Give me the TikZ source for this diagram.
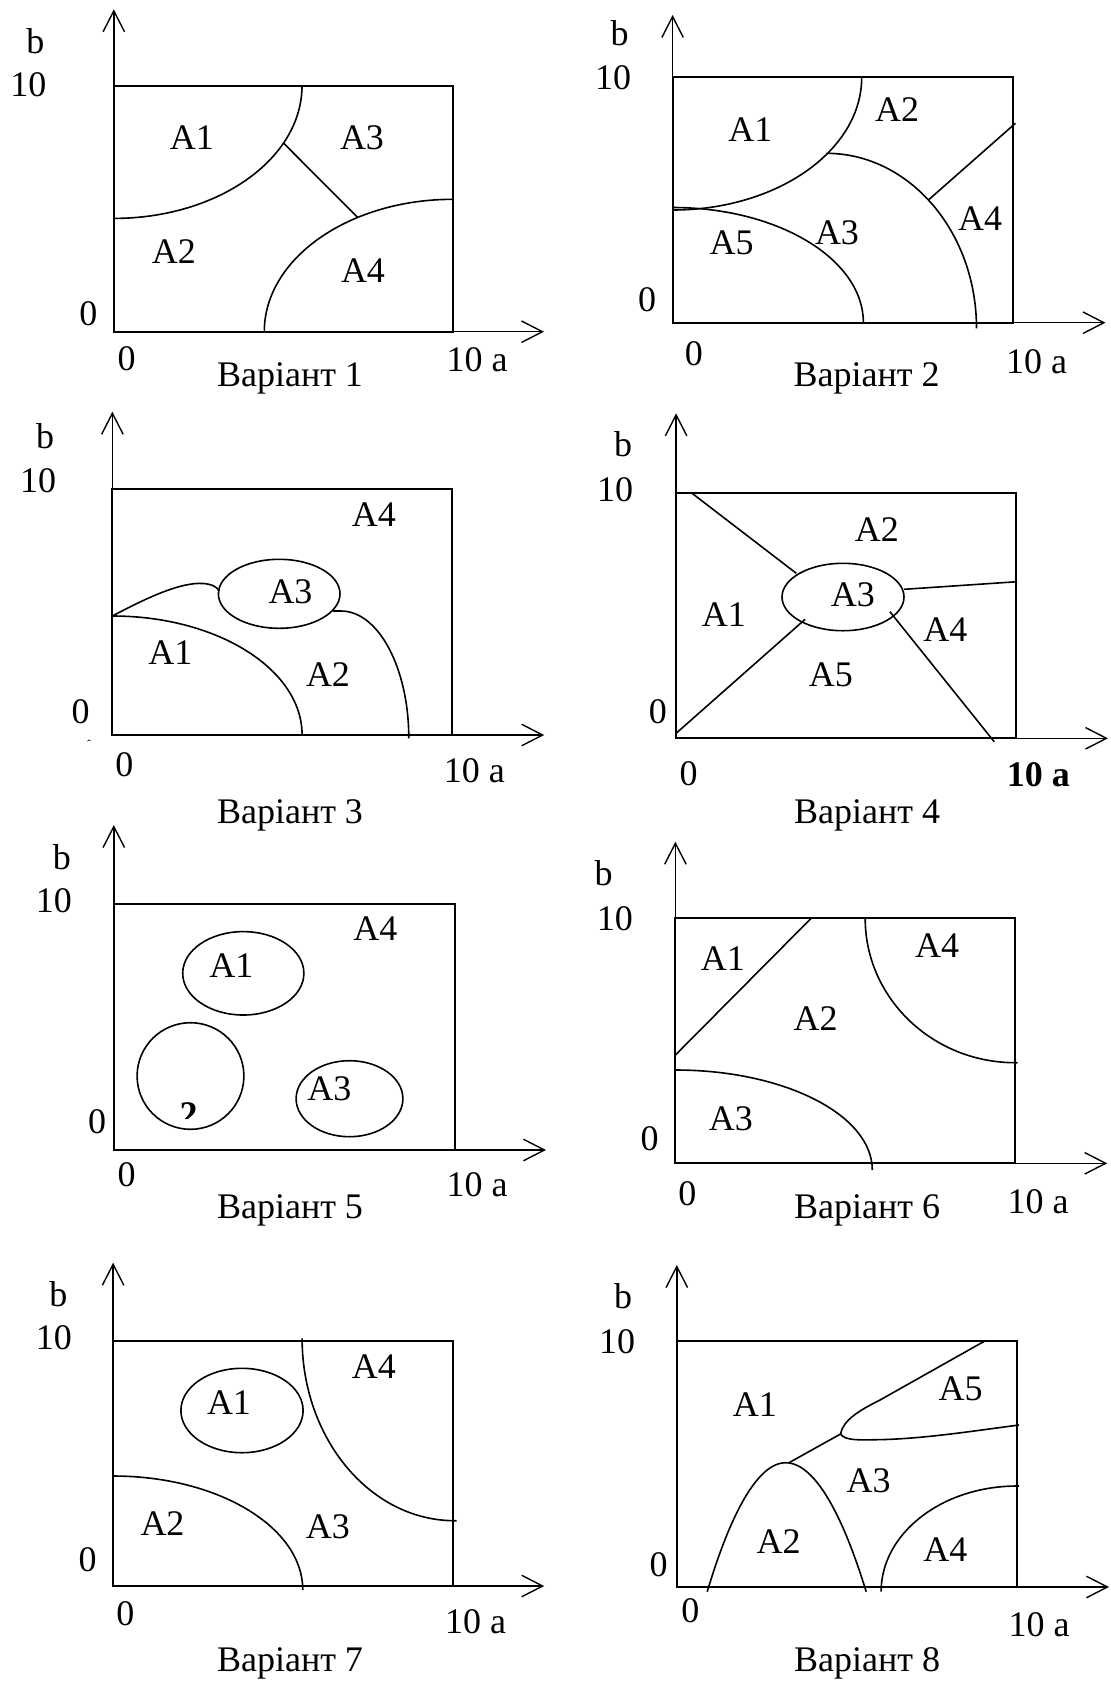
\documentclass[tikz,border=0pt]{standalone}
\usepackage{fontspec}
\setmainfont{Liberation Serif}
\usetikzlibrary{arrows.meta}
\begin{document}
\begin{tikzpicture}[x=0.5pt,y=-0.5pt,
  lbl/.style={inner sep=0pt,anchor=base,font=\fontsize{18}{20}\selectfont},
  ln/.style={line width=0.8pt},
  boxln/.style={line width=1pt},
  axisline/.style={line width=0.7pt,-{Straight Barb[length=10.5pt,width=10.75pt]}}]
\useasboundingbox (0,0) rectangle (1111,1683);

% ================= Panel 1 =================
\draw[boxln] (113.8,85.7) rectangle (453,331.7);
\draw[axisline] (113.8,331.7) -- (113.8,9.3);
\draw[axisline] (453,331.7) -- (544,331.7);
\draw[ln] (302,85.7) arc[start angle=0,end angle=90,x radius=188.2,y radius=132.7];
\draw[ln] (264.3,331.7) arc[start angle=180,end angle=270,x radius=188.7,y radius=132.4];
\draw[ln] (283.7,143.3) -- (357.6,217.3);
\node[lbl] (p1b) at (35.3,53.3) {b};
\node[lbl] (p1ten) at (28.3,96) {10};
\node[lbl] (p1zl) at (88.3,325) {0};
\node[lbl] (p1zb) at (126.5,370) {0};
\node[lbl] (p1a) at (477,371) {10 a};
\node[lbl] (p1t) at (290,386.7) {Варіант 1};
\node[lbl] (p1A1) at (191.9,149.3) {A1};
\node[lbl] (p1A3) at (362,149.3) {A3};
\node[lbl] (p1A2) at (173.9,263.3) {A2};
\node[lbl] (p1A4) at (363,282.7) {A4};

% ================= Panel 2 =================
\draw[boxln] (672.6,77.3) rectangle (1012.5,322.7);
\draw[axisline] (672.6,322.7) -- (672.6,15);
\draw[axisline] (1012.5,322.7) -- (1105.5,322.7);
\draw[ln] (861.7,77.3) arc[start angle=0,end angle=90,x radius=189.1,y radius=132.7];
\draw[ln] (672.6,207.5) arc[start angle=-90,end angle=0,x radius=190.8,y radius=115.2];
\draw[ln] (826.3,153.3) arc[start angle=-90,end angle=0,x radius=150.2,y radius=175];
\draw[ln] (928.4,200) -- (1015.4,123.3);
\node[lbl] (p2b) at (619.6,45) {b};
\node[lbl] (p2ten) at (613.2,89.3) {10};
\node[lbl] (p2zl) at (647.2,311.7) {0};
\node[lbl] (p2zb) at (693.8,365) {0};
\node[lbl] (p2a) at (1036.6,373.3) {10 a};
\node[lbl] (p2t) at (866.6,386.7) {Варіант 2};
\node[lbl] (p2A1) at (750.3,141.7) {A1};
\node[lbl] (p2A2) at (897,121.7) {A2};
\node[lbl] (p2A5) at (731.6,254) {A5};
\node[lbl] (p2A3) at (837,244) {A3};
\node[lbl] (p2A4) at (980,230) {A4};

% ================= Panel 3 =================
\draw[boxln] (112.4,489.3) rectangle (452.3,735);
\draw[axisline] (112.4,735) -- (112.4,411.7);
\draw[axisline] (452.3,735) -- (544.2,735);
\draw[ln] (279.2,593.8) ellipse [x radius=60.8,y radius=34.5];
\draw[ln] (112.4,616) arc[start angle=-90,end angle=0,x radius=189.7,y radius=119];
\draw[ln] (112.4,616) .. controls (150,596) and (182,582) .. (203,583.5)
  .. controls (211,584) and (216,586) .. (219.5,591);
\draw[ln] (332.5,611) -- (341,611) arc[start angle=-90,end angle=0,x radius=67.8,y radius=127.3];
\node[lbl] (p3b) at (45.2,448.3) {b};
\node[lbl] (p3ten) at (38,492.7) {10};
\node[lbl] (p3zl) at (80.6,723.3) {0};
\node[inner sep=0pt,anchor=base,font=\fontsize{6}{6}\selectfont] (p3hat) at (89,748) {ˆ};
\node[lbl] (p3zb) at (124.4,776.7) {0};
\node[lbl] (p3a) at (474.3,782.7) {10 a};
\node[lbl] (p3t) at (290,823) {Варіант 3};
\node[lbl] (p3A4) at (373.9,526.7) {A4};
\node[lbl] (p3A3) at (290.5,603.3) {A3};
\node[lbl] (p3A1) at (170.3,664) {A1};
\node[lbl] (p3A2) at (328,686) {A2};

% ================= Panel 4 =================
\draw[boxln] (676.1,492.7) rectangle (1016,738.3);
\draw[axisline] (676.1,738.3) -- (676.1,413.3);
\draw[axisline] (1016,738.3) -- (1108,738.3);
\draw[ln] (843,597) ellipse [x radius=61,y radius=33.7];
\draw[ln] (691.3,492.7) -- (796.3,573.3);
\draw[ln] (676.1,733.3) -- (805.1,619.3);
\draw[ln] (904,589.3) -- (1017.1,581.7);
\draw[ln] (889.9,611.7) -- (994.2,741.7);
\node[lbl] (p4b) at (623.1,456.7) {b};
\node[lbl] (p4ten) at (615.2,501.7) {10};
\node[lbl] (p4zl) at (657.8,723.3) {0};
\node[lbl] (p4zb) at (688.5,785) {0};
\node[lbl,font=\fontsize{18}{20}\selectfont\bfseries] (p4a) at (1038.3,786) {10 a};
\node[lbl] (p4t) at (867,823) {Варіант 4};
\node[lbl] (p4A2) at (876.8,541.7) {A2};
\node[lbl] (p4A3) at (852.8,606) {A3};
\node[lbl] (p4A1) at (723.8,626) {A1};
\node[lbl] (p4A4) at (945.4,641) {A4};
\node[lbl] (p4A5) at (830.9,686.7) {A5};

% ================= Panel 5 =================
\draw[boxln] (113.8,904) rectangle (454.8,1150);
\draw[axisline] (113.8,1150) -- (113.8,825);
\draw[axisline] (454.8,1150) -- (546,1150);
\draw[ln] (243.3,973.3) ellipse [x radius=60.6,y radius=41.7];
\draw[ln] (190.5,1076) ellipse [x radius=53.4,y radius=53.3];
\draw[ln] (349.5,1098.7) ellipse [x radius=53.4,y radius=38];
\begin{scope}
\clip (160,1090) rectangle (220,1118.3);
\node[lbl,font=\fontsize{18}{20}\selectfont\bfseries] (p5two) at (188.5,1126) {2};
\end{scope}
\node[lbl] (p5b) at (61.8,869.3) {b};
\node[lbl] (p5ten) at (53.9,912.7) {10};
\node[lbl] (p5zl) at (97.2,1133.3) {0};
\node[lbl] (p5zb) at (126.5,1186.7) {0};
\node[lbl] (p5a) at (477,1196.7) {10 a};
\node[lbl] (p5t) at (290,1218.3) {Варіант 5};
\node[lbl] (p5A4) at (375.3,940.7) {A4};
\node[lbl] (p5A1) at (231.4,977.3) {A1};
\node[lbl] (p5A3) at (329.3,1100) {A3};

% ================= Panel 6 =================
\draw[boxln] (675.4,918.3) rectangle (1015.4,1163.3);
\draw[axisline] (675.4,1163.3) -- (675.4,841.7);
\draw[axisline] (1015.4,1163.3) -- (1107.2,1163.3);
\draw[ln] (675.4,1055) -- (811.1,918.3);
\draw[ln] (865.2,918.3) arc[start angle=180,end angle=90,x radius=150.2,y radius=144.4] -- (1017.5,1062.7);
\draw[ln] (675.4,1070) arc[start angle=-90,end angle=0,x radius=196.9,y radius=100];
\node[lbl] (p6b) at (603.7,885) {b};
\node[lbl] (p6ten) at (614.8,930) {10};
\node[lbl] (p6zl) at (649.6,1150) {0};
\node[lbl] (p6zb) at (687.4,1205) {0};
\node[lbl] (p6a) at (1038,1213.3) {10 a};
\node[lbl] (p6t) at (867,1218.3) {Варіант 6};
\node[lbl] (p6A1) at (722.8,970.7) {A1};
\node[lbl] (p6A4) at (937,957.3) {A4};
\node[lbl] (p6A2) at (815.7,1030.7) {A2};
\node[lbl] (p6A3) at (730.9,1130) {A3};

% ================= Panel 7 =================
\draw[boxln] (113.1,1340.7) rectangle (453,1586);
\draw[axisline] (113.1,1586) -- (113.1,1262.7);
\draw[axisline] (453,1586) -- (544.2,1586);
\draw[ln] (242,1410.5) ellipse [x radius=61.1,y radius=42.2];
\draw[ln] (113.1,1476) arc[start angle=-90,end angle=0,x radius=189.7,y radius=114];
\draw[ln] (302.1,1338.3) arc[start angle=180,end angle=90,x radius=152.7,y radius=182.4] -- (456.5,1520.7);
\node[lbl] (p7b) at (58.3,1306.7) {b};
\node[lbl] (p7ten) at (53.9,1349.3) {10};
\node[lbl] (p7zl) at (87.6,1571.7) {0};
\node[lbl] (p7zb) at (125.4,1625) {0};
\node[lbl] (p7a) at (475.6,1633.3) {10 a};
\node[lbl] (p7t) at (290,1671.7) {Варіант 7};
\node[lbl] (p7A1) at (229,1414) {A1};
\node[lbl] (p7A4) at (373.9,1378.3) {A4};
\node[lbl] (p7A2) at (162.5,1535) {A2};
\node[lbl] (p7A3) at (327.9,1538.3) {A3};

% ================= Panel 8 =================
\draw[boxln] (676.8,1340.7) rectangle (1017.1,1587);
\draw[axisline] (676.8,1587) -- (676.8,1265);
\draw[axisline] (1017.1,1587) -- (1109,1587);
\draw[ln] (707.2,1591.7) parabola bend (785.7,1462.7) (866.2,1591.7);
\draw[ln] (789,1462.7) -- (840.5,1434);
\draw[ln] (840.5,1434) .. controls (843,1420) and (860,1410) .. (880,1400) -- (985.3,1340.7);
\draw[ln] (840.5,1434) .. controls (845,1441) and (860,1440) .. (885,1439.5)
  .. controls (930,1438) and (980,1430) .. (1019,1425);
\draw[ln] (881.1,1591.7) arc[start angle=180,end angle=270,x radius=136,y radius=105.7] -- (1019,1486);
\node[lbl] (p8b) at (623.1,1308.3) {b};
\node[lbl] (p8ten) at (617,1353.3) {10};
\node[lbl] (p8zl) at (658.5,1576.7) {0};
\node[lbl] (p8zb) at (690.3,1622.7) {0};
\node[lbl] (p8a) at (1039,1636.7) {10 a};
\node[lbl] (p8t) at (867,1671.7) {Варіант 8};
\node[lbl] (p8A1) at (754.9,1416.7) {A1};
\node[lbl] (p8A5) at (960.6,1400.7) {A5};
\node[lbl] (p8A3) at (868.7,1492.7) {A3};
\node[lbl] (p8A2) at (778.6,1553.3) {A2};
\node[lbl] (p8A4) at (945.4,1561.7) {A4};
\end{tikzpicture}
\end{document}
